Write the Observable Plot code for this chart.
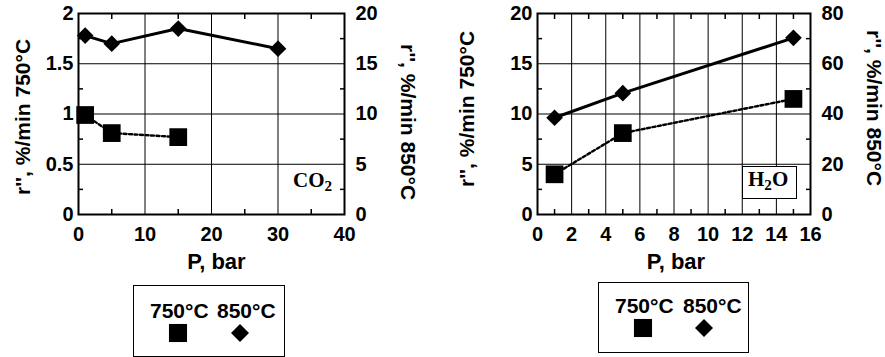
<!DOCTYPE html>
<html><head><meta charset="utf-8">
<script src="https://cdn.jsdelivr.net/npm/d3@7"></script>
<script src="https://cdn.jsdelivr.net/npm/@observablehq/plot@0.6"></script>
<style>
body{margin:0;background:#fff;}
#wrap{position:relative;width:885px;height:357px;overflow:hidden;background:#fff;font-family:Arial,"Liberation Sans",sans-serif;}
.panel{position:absolute;top:0;}
.box{position:absolute;border:1.5px solid #000;box-sizing:border-box;background:#fff;}
.lt{position:absolute;font:bold 21px Arial,"Liberation Sans",sans-serif;line-height:21px;white-space:nowrap;color:#000;}
.chem{position:absolute;font:bold 21px "Liberation Serif","Times New Roman",serif;line-height:21px;white-space:nowrap;color:#000;}
.chem sub{font-size:0.72em;vertical-align:-0.28em;line-height:0;}
svg.mk{position:absolute;overflow:visible;}
</style>
</head><body>
<div id="wrap"></div>
<script>
// ---------- data ----------
// CO2 panel
const co2_xTicks = [0, 10, 20, 30, 40];
const co2_xMinor = [5, 15, 25, 35];
const co2_yTicks = [0, 0.5, 1, 1.5, 2];
const co2_yMinor = [0.25, 0.75, 1.25, 1.75];
const co2_y2Ticks = [0, 5, 10, 15, 20];
const co2_P750 = [1, 5, 15];
const co2_r750 = [0.99, 0.81, 0.77];
const co2_P850 = [1, 5, 15, 30];
const co2_r850 = [17.8, 17.0, 18.5, 16.5];
// H2O panel
const h2o_xTicks = [0, 2, 4, 6, 8, 10, 12, 14, 16];
const h2o_xMinor = [1, 3, 5, 7, 9, 11, 13, 15];
const h2o_yTicks = [0, 5, 10, 15, 20];
const h2o_yMinor = [2.5, 7.5, 12.5, 17.5];
const h2o_y2Ticks = [0, 20, 40, 60, 80];
const h2o_P750 = [1, 5, 15];
const h2o_r750 = [4.0, 8.1, 11.5];
const h2o_P850 = [1, 5, 15];
const h2o_r850 = [38.5, 48.3, 70.3];
// texts
const xTitle = "P, bar";
const yTitleLeft = "r'', %/min 750°C";
const yTitleRight = "r'', %/min 850°C";
const legendLabels = ["750°C", "850°C"];

// ---------- drawing ----------
function panel(o) {
  const k = o.y2Ticks[o.y2Ticks.length - 1] / o.yTicks[o.yTicks.length - 1];
  const d750 = o.p750.map((p, i) => ({p, r: o.r750[i]}));
  const d850 = o.p850.map((p, i) => ({p, r: o.r850[i] / k}));
  const minorX = (anchor, dy) => Plot.axisX(o.xMinor, {anchor, tickSize: 5, dy, fill: "none", stroke: "#000", strokeWidth: 1.5, label: null});
  const minorY = (anchor, dx) => Plot.axisY(o.yMinor, {anchor, tickSize: 5, dx, fill: "none", stroke: "#000", strokeWidth: 1.5, label: null});
  return Plot.plot({
    width: o.width, height: 280,
    marginLeft: o.ml, marginRight: o.mr, marginTop: 13, marginBottom: 66,
    x: {domain: [o.xTicks[0], o.xTicks[o.xTicks.length - 1]]},
    y: {domain: [o.yTicks[0], o.yTicks[o.yTicks.length - 1]]},
    style: {fontFamily: "Arial, 'Liberation Sans', sans-serif", fontSize: "20px", fontWeight: "bold", color: "#000", background: "transparent", overflow: "visible"},
    marks: [
      Plot.gridX(o.xTicks, {stroke: "#000", strokeOpacity: 1, strokeWidth: 1}),
      Plot.gridY(o.yTicks, {stroke: "#000", strokeOpacity: 1, strokeWidth: 1}),
      minorX("bottom", -5), minorX("top", 5),
      minorY("left", 5), minorY("right", -5),
      Plot.axisX(o.xTicks, {anchor: "bottom", tickSize: 0, tickPadding: 12, label: null, tickFormat: d => String(d)}),
      Plot.axisY(o.yTicks, {anchor: "left", tickSize: 0, tickPadding: 5, label: null, tickFormat: d => String(d)}),
      Plot.axisY(o.yTicks, {anchor: "right", tickSize: 0, tickPadding: 11, label: null, tickFormat: d => String(o.y2Ticks[o.yTicks.indexOf(d)])}),
      Plot.frame({stroke: "#000", strokeWidth: 2}),
      Plot.text([xTitle], {text: d => d, frameAnchor: "bottom", dy: 47, dx: o.xtdx, fontSize: 22, fontWeight: "bold", textAnchor: "middle", lineAnchor: "middle"}),
      Plot.text([yTitleLeft], {text: d => d, frameAnchor: "left", dx: o.ytl, dy: o.ytdy, rotate: -90, fontSize: 21, fontWeight: "bold", textAnchor: "middle", lineAnchor: "middle"}),
      Plot.text([yTitleRight], {text: d => d, frameAnchor: "right", dx: 63, dy: o.ytdy2, rotate: 90, fontSize: 21, fontWeight: "bold", textAnchor: "middle", lineAnchor: "middle"}),
      Plot.line(d750, {x: "p", y: "r", stroke: "#000", strokeWidth: 2.4, strokeDasharray: "3,2.5"}),
      Plot.line(d850, {x: "p", y: "r", stroke: "#000", strokeWidth: 3}),
      Plot.dot(d750, {x: "p", y: "r", symbol: "square", r: 10, fill: "#000", stroke: "none"}),
      Plot.dot(d850, {x: "p", y: "r", symbol: "diamond2", r: 7.5, fill: "#000", stroke: "none"})
    ]
  });
}

const wrap = document.getElementById("wrap");
const left = panel({xTicks: co2_xTicks, xMinor: co2_xMinor, yTicks: co2_yTicks, yMinor: co2_yMinor, y2Ticks: co2_y2Ticks,
  p750: co2_P750, r750: co2_r750, p850: co2_P850, r850: co2_r850, width: 440, ml: 78, mr: 96, xtdx: 5, ytl: -55, ytdy: 3, ytdy2: 8});
left.classList.add("panel"); left.style.left = "0px";
wrap.appendChild(left);
const right = panel({xTicks: h2o_xTicks, xMinor: h2o_xMinor, yTicks: h2o_yTicks, yMinor: h2o_yMinor, y2Ticks: h2o_y2Ticks,
  p750: h2o_P750, r750: h2o_r750, p850: h2o_P850, r850: h2o_r850, width: 445, ml: 97, mr: 75, xtdx: 2, ytl: -70, ytdy: -5, ytdy2: -6});
right.classList.add("panel"); right.style.left = "440px";
wrap.appendChild(right);

// gas labels
function addDiv(cls, css, html) {
  const d = document.createElement("div");
  d.className = cls; Object.assign(d.style, css); d.innerHTML = html; wrap.appendChild(d); return d;
}
addDiv("chem", {left: "293px", top: "170px"}, "CO<sub>2</sub>");
addDiv("box", {left: "742px", top: "166px", width: "55px", height: "33px"}, "");
addDiv("chem", {left: "748px", top: "169px"}, "H<sub>2</sub>O");

// legends
function marker(type, cx, cy, r) {
  const s = d3.create("svg").attr("class", "mk").attr("width", 1).attr("height", 1)
    .style("left", cx + "px").style("top", cy + "px");
  s.append("path").attr("d", d3.symbol(type === "square" ? d3.symbolSquare : d3.symbolDiamond2, Math.PI * r * r)()).attr("fill", "#000");
  wrap.appendChild(s.node());
}
function legend(bx, by, bw, bh, t1x, t2x, baseY, sqx, dix, my) {
  addDiv("box", {left: bx + "px", top: by + "px", width: bw + "px", height: bh + "px", background: "transparent"}, "");
  addDiv("lt", {left: t1x + "px", top: (baseY - 18) + "px"}, legendLabels[0]);
  addDiv("lt", {left: t2x + "px", top: (baseY - 18) + "px"}, legendLabels[1]);
  marker("square", sqx, my, 10.2);
  marker("diamond", dix, my, 8.1);
}
legend(133, 285, 152, 72, 150, 217, 318, 178, 240, 333);
legend(598, 282, 151, 71, 615, 683, 313, 643, 704, 328);
</script>
</body></html>
